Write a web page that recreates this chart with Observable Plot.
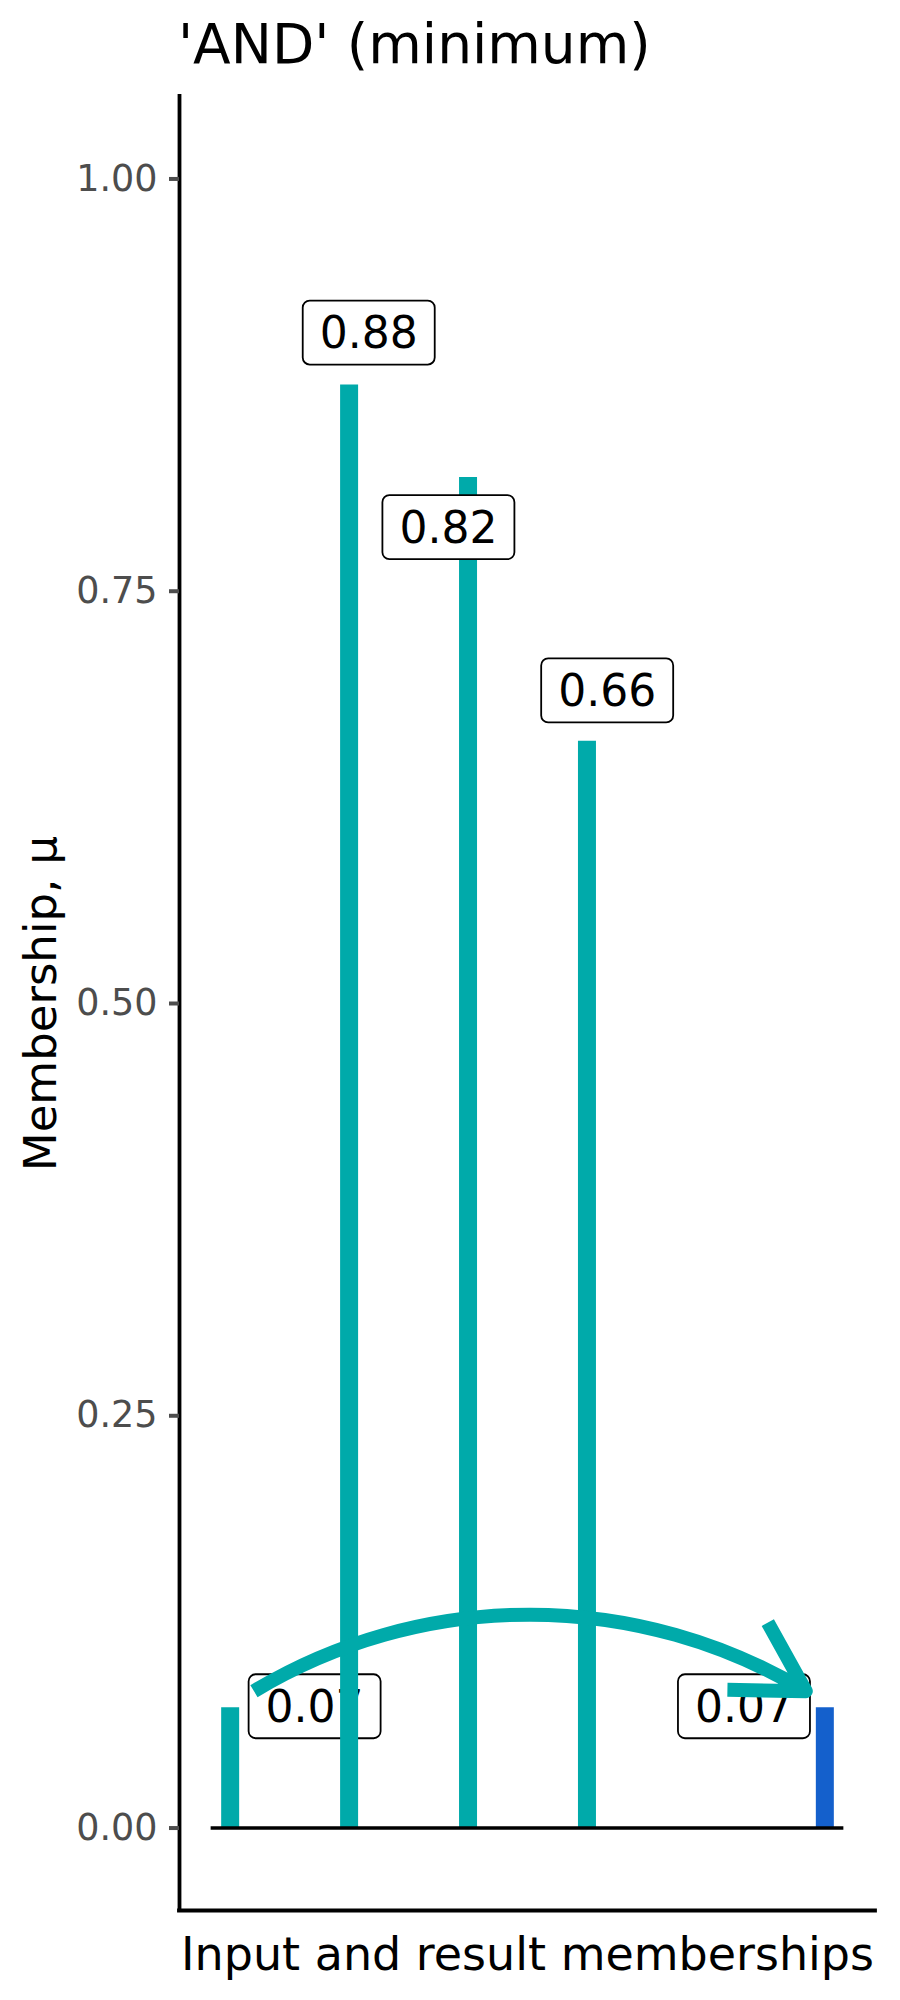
<!DOCTYPE html>
<html>
<head>
<meta charset="utf-8">
<script src="https://cdn.jsdelivr.net/npm/d3@7"></script>
<script src="https://cdn.jsdelivr.net/npm/@observablehq/plot@0.6"></script>
<style>
  body { margin: 0; background: #fff; }
  #title { height: 80px; box-sizing: border-box; padding: 17px 0 0 178px; font-family: "DejaVu Sans"; font-size: 55px; line-height: 55px; color: #000; white-space: nowrap; }
  #chart svg { display: block; }
</style>
</head>
<body>
<div id="title">'AND' (minimum)</div>
<div id="chart"></div>
<script>
// ---- data ----
const categories = ["Input 1", "Input 2", "Input 3", "Input 4", "Result"];
const positions = [1, 2, 3, 4, 6];
const memberships = [0.073, 0.875, 0.819, 0.659, 0.073];
const labels = ["0.07", "0.88", "0.82", "0.66", "0.07"];
const labelNudgeX = [0.71, 0.165, -0.165, 0.17, -0.68];
const labelNudgeY = [0, 0.031, -0.031, 0.03, 0];
const barColors = ["#00AAAA", "#00AAAA", "#00AAAA", "#00AAAA", "#1460CC"];
const yTicks = [0, 0.25, 0.5, 0.75, 1];
const baselineExtent = [0.84, 6.16];
const arrowFrom = [1.2, 0.083];
const arrowTo = [5.84, 0.083];

const rows = categories.map((c, i) => ({
  cat: c, pos: positions[i], value: memberships[i], label: labels[i],
  nx: labelNudgeX[i], ny: labelNudgeY[i], color: barColors[i]
}));

const pad = 0.05 * (baselineExtent[1] - baselineExtent[0]);
const xDomain = [baselineExtent[0] - pad, baselineExtent[1] + pad];
const yDomain = [-0.05, 1.05];

const barOpts = {x: "pos", y1: 0, y2: "value", stroke: "color", strokeWidth: 18};
const lblOpts = {x: d => d.pos + d.nx, y: d => d.value + d.ny, text: "label", fontSize: 44, fill: "black", lineAnchor: "middle"};

const chart = Plot.plot({
  width: 900,
  height: 1920,
  marginLeft: 179,
  marginRight: 25,
  marginTop: 16,
  marginBottom: 90,
  x: {domain: xDomain, axis: null},
  y: {domain: yDomain},
  color: {type: "identity"},
  style: {fontFamily: "DejaVu Sans", background: "white", overflow: "visible"},
  marks: [
    Plot.ruleX(rows.slice(0, 1), barOpts),
    Plot.text(rows.slice(0, 1), lblOpts),
    Plot.ruleX(rows.slice(1), barOpts),
    Plot.text(rows.slice(1), lblOpts),
    Plot.ruleY([0], {x1: baselineExtent[0], x2: baselineExtent[1], stroke: "black", strokeWidth: 3.6}),
    Plot.arrow([{x1: arrowFrom[0], y1: arrowFrom[1], x2: arrowTo[0], y2: arrowTo[1]}], {
      x1: "x1", y1: "y1", x2: "x2", y2: "y2", bend: 31,
      stroke: "#00AAAA", strokeWidth: 14, headLength: 8.4, headAngle: 60,
      strokeLinejoin: "round", strokeLinecap: "butt"
    }),
    Plot.ruleX([xDomain[0]], {stroke: "black", strokeWidth: 3.8, strokeLinecap: "square"}),
    Plot.ruleY([yDomain[0]], {stroke: "black", strokeWidth: 3.8, strokeLinecap: "square"}),
    Plot.axisY(yTicks, {tickFormat: d3.format(".2f"), tickSize: 10, tickPadding: 12, fontSize: 36.5, color: "#4d4d4d", strokeWidth: 4, label: null}),
    Plot.text(["Membership, μ"], {frameAnchor: "left", rotate: -90, dx: -137.5, fontSize: 45, fill: "black", textAnchor: "middle", lineAnchor: "middle"}),
    Plot.text(["Input and result memberships"], {frameAnchor: "bottom", dy: 45, fontSize: 46, fill: "black", textAnchor: "middle", lineAnchor: "middle"})
  ]
});

document.getElementById("chart").append(chart);
const svg = chart.tagName.toLowerCase() === "svg" ? chart : chart.querySelector("svg");
svg.querySelectorAll('g[aria-label="text"] text').forEach(t => {
  if (!/^\d\.\d\d$/.test(t.textContent)) return;
  const b = t.getBBox();
  const w = 132, h = 64;
  const r = document.createElementNS("http://www.w3.org/2000/svg", "rect");
  r.setAttribute("x", b.x + b.width / 2 - w / 2);
  r.setAttribute("y", b.y + b.height / 2 - h / 2);
  r.setAttribute("width", w);
  r.setAttribute("height", h);
  r.setAttribute("rx", 7);
  r.setAttribute("fill", "white");
  r.setAttribute("stroke", "black");
  r.setAttribute("stroke-width", 1.8);
  const tr = t.getAttribute("transform");
  if (tr) r.setAttribute("transform", tr);
  t.parentNode.insertBefore(r, t);
});
</script>
</body>
</html>
